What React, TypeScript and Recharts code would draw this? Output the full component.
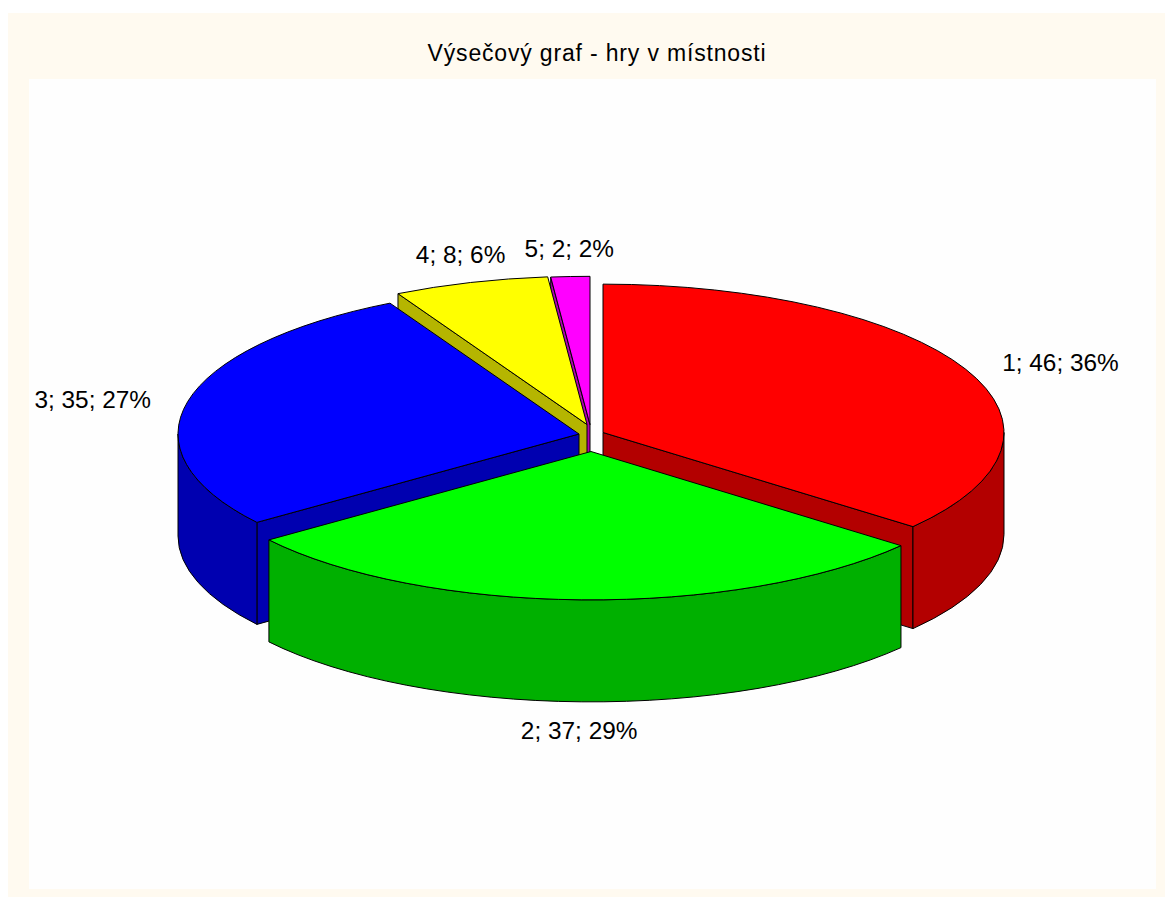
import { Pie, PieChart } from "recharts";

const categories = ["1", "2", "3", "4", "5"];
const gameCounts = [46, 37, 35, 8, 2];

const topColors = ["#ff0000", "#00ff00", "#0000ff", "#ffff00", "#ff00ff"];
const sideColors = ["#b30000", "#00b000", "#0000b0", "#b5b500", "#b000b0"];

// how far each slice is pulled out of the pie
const explode = [
  { dx: 12, dy: -1.5 },
  { dx: 0, dy: 17.5 },
  { dx: -12, dy: 0 },
  { dx: -4, dy: -9.5 },
  { dx: -1, dy: -9.3 },
];
// label centre relative to the slice's rim at its middle angle
const labelNudge = [
  { dx: 95, dy: -6.5 },
  { dx: -2, dy: 131 },
  { dx: -95, dy: -2 },
  { dx: -10, dy: -28 },
  { dx: -1, dy: -28 },
];
// back to front, so nearer slices hide the walls of the ones behind
const drawOrder = [4, 3, 2, 0, 1];

const tableData = categories.map((name, i) => ({ name, value: gameCounts[i] }));

const SQUASH = 0.37;
const DEPTH = 102;
const RAD = Math.PI / 180;

function Slice3D(props: any) {
  const { cx, cy, outerRadius: r, startAngle, endAngle, index } = props;
  const ox = cx + explode[index].dx;
  const oy = cy + explode[index].dy;
  const ry = r * SQUASH;
  const pt = (a: number) => [ox + r * Math.cos(a * RAD), oy - ry * Math.sin(a * RAD)];
  const [sx, sy] = pt(startAngle);
  const [ex, ey] = pt(endAngle);
  const large = startAngle - endAngle > 180 ? 1 : 0;
  const top = `M${ox},${oy} L${sx},${sy} A${r},${ry} 0 ${large} 1 ${ex},${ey} Z`;

  const wall = (x: number, y: number) =>
    `M${ox},${oy} L${x},${y} L${x},${y + DEPTH} L${ox},${oy + DEPTH} Z`;
  // cut faces turned away from the viewer are skipped
  const showStart = Math.cos(startAngle * RAD) < -1e-6;
  const showEnd = Math.cos(endAngle * RAD) > 1e-6;

  // only the part of the rim on the lower half of the ellipse shows its side
  const hi = Math.min(startAngle, 0);
  const lo = Math.max(endAngle, -180);
  let rim = "";
  if (hi > lo) {
    const [ax, ay] = pt(hi);
    const [bx, by] = pt(lo);
    rim =
      `M${ax},${ay} A${r},${ry} 0 0 1 ${bx},${by} L${bx},${by + DEPTH} ` +
      `A${r},${ry} 0 0 0 ${ax},${ay + DEPTH} Z`;
  }
  const side = sideColors[index];
  return (
    <g stroke="#000" strokeWidth={1} strokeLinejoin="round">
      {showStart && <path d={wall(sx, sy)} fill={side} />}
      {showEnd && <path d={wall(ex, ey)} fill={side} />}
      {rim && <path d={rim} fill={side} />}
      <path d={top} fill={topColors[index]} />
    </g>
  );
}

function renderLabel(props: any) {
  const { cx, cy, outerRadius: r, midAngle, index, value, percent } = props;
  const x = cx + explode[index].dx + r * Math.cos(midAngle * RAD) + labelNudge[index].dx;
  const y = cy + explode[index].dy - r * SQUASH * Math.sin(midAngle * RAD) + labelNudge[index].dy;
  return (
    <text
      x={x}
      y={y}
      textAnchor="middle"
      dominantBaseline="central"
      fontFamily="Liberation Sans"
      fontSize={24.4}
      fill="#000"
    >
      {`${categories[index]}; ${value}; ${Math.round(percent * 100)}%`}
    </text>
  );
}

export default function App() {
  return (
    <div style={{ position: "absolute", left: 0, top: 0, width: 1165, height: 897, background: "#fff", overflow: "hidden" }}>
      <div style={{ position: "absolute", left: 8, top: 13, width: 1157, height: 884, background: "#fffaf0" }} />
      <div style={{ position: "absolute", left: 29, top: 79, width: 1127, height: 810, background: "#fefefe" }} />
      <div
        style={{
          position: "absolute",
          left: 8,
          top: 38,
          width: 1178,
          textAlign: "center",
          fontFamily: "Liberation Sans",
          fontSize: 23,
          letterSpacing: 0.83,
          lineHeight: "30px",
          color: "#000",
        }}
      >
        Výsečový graf - hry v místnosti
      </div>
      <div style={{ position: "absolute", left: 0, top: 0 }}>
        <PieChart width={1165} height={897} margin={{ top: 0, right: 0, bottom: 0, left: 0 }}>
          {drawOrder.map((sliceIndex, n) => (
            <Pie
              key={sliceIndex}
              data={tableData}
              dataKey="value"
              nameKey="name"
              cx={591}
              cy={434}
              innerRadius={0}
              outerRadius={401}
              startAngle={90}
              endAngle={-270}
              paddingAngle={0}
              isAnimationActive={false}
              labelLine={false}
              label={n === drawOrder.length - 1 ? renderLabel : false}
              shape={(p: any) => (p.index === sliceIndex ? <Slice3D {...p} /> : <g />)}
            />
          ))}
        </PieChart>
      </div>
    </div>
  );
}
